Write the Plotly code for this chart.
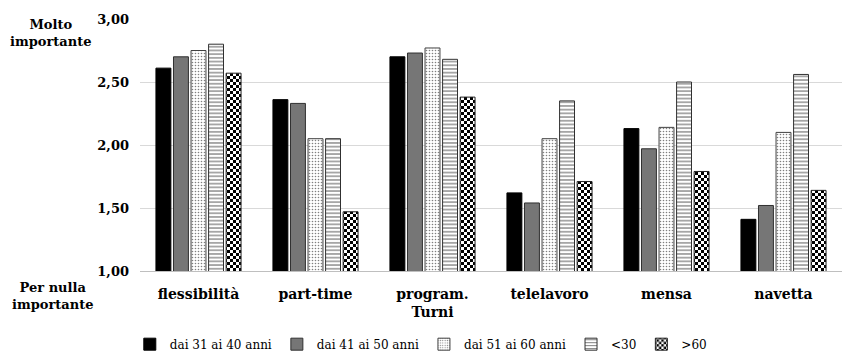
import plotly.graph_objects as go

# Servizi valutati (asse delle categorie)
categorie = ["flessibilità", "part-time", "program.<br>Turni", "telelavoro", "mensa", "navetta"]

# Punteggio medio per fascia d'età (scala 1 = per nulla importante, 3 = molto importante)
eta_31_40 = [2.61, 2.36, 2.70, 1.62, 2.13, 1.41]
eta_41_50 = [2.70, 2.33, 2.73, 1.54, 1.97, 1.52]
eta_51_60 = [2.75, 2.05, 2.77, 2.05, 2.14, 2.10]
eta_sotto_30 = [2.80, 2.05, 2.68, 2.35, 2.50, 2.56]
eta_oltre_60 = [2.57, 1.47, 2.38, 1.71, 1.79, 1.64]

serie = [
    ("dai 31 ai 40 anni", eta_31_40),
    ("dai 41 ai 50 anni", eta_41_50),
    ("dai 51 ai 60 anni", eta_51_60),
    ("<30", eta_sotto_30),
    (">60", eta_oltre_60),
]

# Riempimenti in bianco e nero per ciascuna fascia
stili = [
    dict(color="#000000", line=dict(color="#000000", width=1)),
    dict(color="#767676", line=dict(color="#303030", width=1)),
    dict(color="#ffffff", line=dict(color="#404040", width=1),
         pattern=dict(shape=".", fgcolor="#000000", bgcolor="#ffffff",
                      size=3, solidity=0.22, fillmode="overlay")),
    dict(color="#ffffff", line=dict(color="#303030", width=1),
         pattern=dict(shape="-", fgcolor="#000000", bgcolor="#ffffff",
                      size=3.7, solidity=0.35, fillmode="overlay")),
    dict(color="#ffffff", line=dict(color="#202020", width=1),
         pattern=dict(shape="x", fgcolor="#010101", bgcolor="#ffffff",
                      size=5, solidity=0.5, fillmode="overlay")),
]

SERIF = "DejaVu Serif"

fig = go.Figure()
for (nome, valori), stile in zip(serie, stili):
    fig.add_trace(go.Bar(x=categorie, y=valori, name=nome, marker=stile))

fig.update_layout(
    width=845,
    height=353,
    margin=dict(l=140, r=3, t=19, b=82, autoexpand=False),
    paper_bgcolor="white",
    plot_bgcolor="white",
    separators=",.",
    barmode="group",
    bargap=0.25,
    bargroupgap=0.15,
    font=dict(family=SERIF, color="#000000"),
    showlegend=True,
    legend=dict(
        orientation="h",
        x=0.40,
        xanchor="center",
        yref="container",
        y=0.025,
        yanchor="middle",
        font=dict(family=SERIF, size=12, color="#000000"),
        itemwidth=30,
        traceorder="normal",
    ),
    xaxis=dict(
        showgrid=False,
        showline=True,
        linecolor="#bfbfbf",
        linewidth=1,
        ticks="",
        ticklabelstandoff=10,
        tickfont=dict(family=SERIF, size=14, color="#000000", weight="bold"),
    ),
    yaxis=dict(
        range=[1, 3],
        dtick=0.5,
        tick0=1,
        tickformat=".2f",
        showgrid=True,
        gridcolor="#d9d9d9",
        gridwidth=1,
        zeroline=False,
        showline=False,
        ticks="",
        ticklabelstandoff=10,
        tickfont=dict(family=SERIF, size=13, color="#000000", weight="bold"),
    ),
)

fig.add_annotation(
    text="Molto<br>importante", xref="paper", yref="paper",
    x=-0.128, y=0.944, showarrow=False, xanchor="center", yanchor="middle",
    font=dict(family=SERIF, size=13, color="#000000", weight="bold"),
)
fig.add_annotation(
    text="Per nulla<br>importante", xref="paper", yref="paper",
    x=-0.125, y=-0.1, showarrow=False, xanchor="center", yanchor="middle",
    font=dict(family=SERIF, size=13, color="#000000", weight="bold"),
)

# Trama a scacchiera per la fascia ">60"
scacchiera = """
document.querySelectorAll('pattern').forEach(function (p) {
  var s = p.innerHTML;
  if (s.indexOf('rgb(1, 1, 1)') < 0 && s.indexOf('#010101') < 0) { return; }
  var c = 3;
  p.setAttribute('width', 2 * c);
  p.setAttribute('height', 2 * c);
  p.innerHTML = '<rect x="0" y="0" width="' + 2 * c + '" height="' + 2 * c + '" fill="#ffffff"></rect>' +
    '<rect x="0" y="0" width="' + c + '" height="' + c + '" fill="#000000"></rect>' +
    '<rect x="' + c + '" y="' + c + '" width="' + c + '" height="' + c + '" fill="#000000"></rect>';
});
"""

fig.write_html("out.html", post_script=scacchiera)
